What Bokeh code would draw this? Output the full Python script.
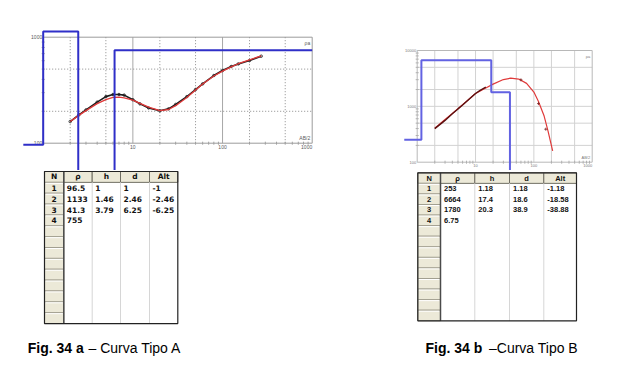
import numpy as np
from bokeh.plotting import figure
from bokeh.models import Range1d
from bokeh.layouts import row, column
from bokeh.embed import file_html
from bokeh.resources import INLINE
from bokeh.core.properties import value

# ---------------- data ----------------
# Fig. 34 a  (Curva Tipo A)
ab_a = [2, 2.5, 3, 4, 5, 6, 7, 8, 10, 12, 15, 20, 25, 30, 40, 50, 60, 80, 100, 125, 150, 200, 270]
rho_obs_a = [160, 185, 206, 244, 275, 288, 288, 284, 257, 235, 215, 202, 211, 232, 275, 321, 363, 435, 485, 529, 560, 602, 662]
rho_fit_a = [160, 183, 203, 236, 258, 270, 272, 268, 255, 238, 219, 203, 208, 226, 270, 318, 362, 430, 478, 525, 562, 612, 668]
rho_layers_a = [96.5, 1133, 41.3, 755]
h_layers_a = [1, 1.46, 3.79]
d_layers_a = [1, 2.46, 6.25]
alt_layers_a = [-1, -2.46, -6.25]

# Fig. 34 b  (Curva Tipo B)
ab_fit_b = [2, 3, 4, 6, 10, 15, 20, 30, 40, 55, 75, 100, 120, 150, 175, 210]
rho_fit_b = [406, 580, 745, 1070, 1700, 2130, 2500, 3020, 3190, 3080, 2580, 1800, 1220, 670, 360, 160]
ab_obs_b = [2, 2.5, 3, 4, 5, 6, 8, 10, 12, 15]
rho_obs_b = [400, 480, 560, 735, 900, 1060, 1380, 1700, 1930, 2200]
ab_pts_b = [60, 120, 160]
rho_pts_b = [2980, 1120, 390]
rho_layers_b = [253, 6664, 1780, 6.75]
h_layers_b = [1.18, 17.4, 20.3]
d_layers_b = [1.18, 18.6, 38.9]
alt_layers_b = [-1.18, -18.58, -38.88]

x_tick_labels = ["10", "100", "1000"]
y_tick_labels_a = ["100", "1000"]
y_tick_labels_b = ["100", "1000", "10000"]
table_headers = ["N", "ρ", "h", "d", "Alt"]
caption_bold = ["Fig. 34 a", "Fig. 34 b"]
caption_rest = ["– Curva Tipo A", "–Curva Tipo B"]

BLUE_A = "#2f2fc8"
BLUE_B = "#6262e2"
RED = "#e03a3a"
DARK = "#1c1c1c"
TXT = "#5a5a5a"


def make_chart(width, height, box, xlim, ylim):
    L, R, T, B = box
    lx0, lx1 = np.log10(xlim)
    ly0, ly1 = np.log10(ylim)
    sx = (lx1 - lx0) / (R - L)
    sy = (ly1 - ly0) / (B - T)
    xr = Range1d(10 ** (lx0 - L * sx), 10 ** (lx1 + (width - R) * sx))
    yr = Range1d(10 ** (ly0 - (height - B) * sy), 10 ** (ly1 + T * sy))
    p = figure(width=width, height=height, x_axis_type="log", y_axis_type="log",
               x_range=xr, y_range=yr, x_axis_location=None, y_axis_location=None,
               output_backend="svg", toolbar_location=None, min_border=0,
               outline_line_color=None, background_fill_color="white",
               border_fill_color="white")
    p.grid.visible = False
    return p


def model_steps(rho, d, x_start, x_end):
    xs = [x_start]
    ys = [rho[0]]
    for i, di in enumerate(d):
        xs += [di, di]
        ys += [rho[i], rho[i + 1]]
    xs.append(x_end)
    ys.append(rho[-1])
    return xs, ys


def axis_texts(p, xlim, ylim, ylabels, size, color):
    font = value("Liberation Sans")
    yv = [float(s) for s in ylabels]
    p.text(x=xlim[0], y=yv, text=ylabels, text_align="right", text_baseline="middle",
           x_offset=-1, text_font_size=size, text_color=color, text_font=font)
    xv = [float(s) for s in x_tick_labels]
    p.text(x=xv[:-1], y=ylim[0], text=x_tick_labels[:-1], text_align="center",
           text_baseline="top", y_offset=2, text_font_size=size, text_color=color, text_font=font)
    p.text(x=[xv[-1]], y=ylim[0], text=x_tick_labels[-1:], text_align="right",
           text_baseline="top", y_offset=2, text_font_size=size, text_color=color, text_font=font)
    p.text(x=[xlim[1]], y=[ylim[0]], text=["AB/2"], text_align="right", text_baseline="bottom",
           x_offset=-2, y_offset=-2, text_font_size=size, text_color=color, text_font=font)
    p.text(x=[xlim[1]], y=[ylim[1]], text=["ρa"], text_align="right", text_baseline="top",
           x_offset=-2, y_offset=3, text_font_size=size, text_color=color, text_font=font)


def minor_ticks(p, xlim, ylim, color):
    xt = [m * 10 ** k for k in range(int(np.log10(xlim[0])), int(np.log10(xlim[1])))
          for m in range(2, 10)]
    yt = [m * 10 ** k for k in range(int(np.log10(ylim[0])), int(np.log10(ylim[1])))
          for m in range(2, 10)]
    p.scatter(x=xt, y=ylim[0], marker="dash", angle=np.pi / 2, size=3, line_color=color)
    p.scatter(x=xlim[0], y=yt, marker="dash", size=3, line_color=color)


# ---------------- chart A ----------------
xlim_a, ylim_a = (1, 1000), (100, 1000)
pa = make_chart(320, 170, (42.7, 311.7, 36.7, 142.7), xlim_a, ylim_a)
pa.segment(x0=[2, 5, 20, 50, 200, 500], y0=ylim_a[0], x1=[2, 5, 20, 50, 200, 500], y1=ylim_a[1],
           line_color="#8a8a8a", line_dash="1 2", line_width=1)
pa.segment(x0=[10, 100], y0=ylim_a[0], x1=[10, 100], y1=ylim_a[1], line_color="#a8a8a8", line_width=1)
pa.segment(x0=xlim_a[0], y0=[200, 500], x1=xlim_a[1], y1=[200, 500],
           line_color="#8a8a8a", line_dash="1 2", line_width=1)
pa.quad(left=[xlim_a[0]], right=[xlim_a[1]], bottom=[ylim_a[0]], top=[ylim_a[1]],
        fill_color=None, line_color="#9c9c9c", line_width=1)
minor_ticks(pa, xlim_a, ylim_a, "#a0a0a0")
axis_texts(pa, xlim_a, ylim_a, y_tick_labels_a, "5px", TXT)
pa.line(ab_a, rho_obs_a, line_color=DARK, line_width=1.6)
pa.scatter(ab_a, rho_obs_a, marker="circle", size=2.5, fill_color=None, line_color=DARK, line_width=0.8)
pa.line(ab_a, rho_fit_a, line_color=RED, line_width=1.3)
mx, my = model_steps(rho_layers_a, d_layers_a, 0.6, xlim_a[1])
pa.line(mx, my, line_color=BLUE_A, line_width=2)

# ---------------- chart B ----------------
xlim_b, ylim_b = (1, 1000), (100, 10000)
pbc = make_chart(294, 170, (96.7, 271.7, 50, 161.7), xlim_b, ylim_b)
gx_b = [2, 5, 10, 20, 50, 100, 200, 500]
gy_b = [200, 500, 1000, 2000, 5000]
pbc.segment(x0=gx_b, y0=ylim_b[0], x1=gx_b, y1=ylim_b[1], line_color="#d2d2d2", line_width=1)
pbc.segment(x0=xlim_b[0], y0=gy_b, x1=xlim_b[1], y1=gy_b, line_color="#d2d2d2", line_width=1)
pbc.quad(left=[xlim_b[0]], right=[xlim_b[1]], bottom=[ylim_b[0]], top=[ylim_b[1]],
         fill_color=None, line_color="#b8b8b8", line_width=1)
minor_ticks(pbc, xlim_b, ylim_b, "#b0b0b0")
axis_texts(pbc, xlim_b, ylim_b, y_tick_labels_b, "4px", "#7a7a7a")
pbc.line(ab_fit_b, rho_fit_b, line_color=RED, line_width=1.2)
pbc.line(ab_obs_b, rho_obs_b, line_color="#5a1010", line_width=1.4)
pbc.scatter(ab_pts_b, rho_pts_b, marker="cross", size=3, line_color="#7a2020", line_width=0.8)
mxb, myb = model_steps(rho_layers_b, d_layers_b, 0.6, xlim_b[1])
pbc.line(mxb, myb, line_color=BLUE_B, line_width=2)

# ---------------- tables + captions ----------------
pt = figure(width=614, height=204, x_range=Range1d(0, 614), y_range=Range1d(374, 170),
            x_axis_location=None, y_axis_location=None, output_backend="svg",
            toolbar_location=None, min_border=0, outline_line_color=None,
            background_fill_color="white", border_fill_color="white")
pt.grid.visible = False


def draw_table(p, left, top, col_w, row_h, n_rows, cols, font, fsize, pad):
    edges = left + np.concatenate([[0], np.cumsum(col_w)])
    right = edges[-1]
    bottom = top + row_h * n_rows
    p.quad(left=[left], right=[right], top=[top], bottom=[bottom], fill_color="white", line_color=None)
    # header
    p.quad(left=edges[:-1], right=edges[1:], top=top, bottom=top + row_h,
           fill_color="#ece9d8", line_color="#6f6d62", line_width=1)
    # N column
    ys = top + row_h * np.arange(1, n_rows)
    p.quad(left=edges[0], right=edges[1], top=ys, bottom=ys + row_h,
           fill_color="#ece9d8", line_color="#a29f90", line_width=1)
    p.segment(x0=edges[0] + 1, y0=ys + 1, x1=edges[1] - 1, y1=ys + 1, line_color="white", line_width=1)
    # data column separators
    p.segment(x0=edges[2:-1], y0=top + row_h, x1=edges[2:-1], y1=bottom, line_color="#d6d6d6", line_width=1)
    p.segment(x0=[edges[1]], y0=[top], x1=[edges[1]], y1=[bottom], line_color="#4a4a4a", line_width=1.5)
    # outer border
    p.quad(left=[left], right=[right], top=[top], bottom=[bottom], fill_color=None,
           line_color="#222222", line_width=1.2)
    cx = (edges[:-1] + edges[1:]) / 2
    f = value(font)
    p.text(x=cx, y=top + row_h / 2, text=table_headers, text_align="center", text_baseline="middle",
           text_font=f, text_font_style="bold", text_font_size=fsize, text_color="#111111")
    nl = len(cols[0])
    p.text(x=cx[0], y=top + row_h * (np.arange(1, nl + 1) + 0.5), text=[str(i) for i in range(1, nl + 1)],
           text_align="center", text_baseline="middle", text_font=f, text_font_style="bold",
           text_font_size=fsize, text_color="#111111")
    for j, vals in enumerate(cols):
        p.text(x=edges[j + 1] + pad, y=top + row_h * (np.arange(1, len(vals) + 1) + 0.5),
               text=[f"{v:g}" for v in vals], text_align="left", text_baseline="middle",
               text_font=f, text_font_style="bold", text_font_size=fsize, text_color="#111111")


draw_table(pt, 44, 171, [19.3, 28.4, 28.3, 29, 28.3], 10.86, 14,
           [rho_layers_a, h_layers_a, d_layers_a, alt_layers_a], "DejaVu Sans", "7.5px", 3)
draw_table(pt, 417.3, 172.3, [22.7, 34.3, 34.7, 34.3, 32.7], 10.57, 14,
           [rho_layers_b, h_layers_b, d_layers_b, alt_layers_b], "Liberation Sans", "7.5px", 3.5)

cap_font = value("Liberation Sans")
pt.text(x=[27.3, 425], y=347, text=caption_bold, text_align="left", text_baseline="middle",
        text_font=cap_font, text_font_style="bold", text_font_size="14px", text_color="black")
pt.text(x=[88, 488.5], y=347, text=caption_rest, text_align="left", text_baseline="middle",
        text_font=cap_font, text_font_size="14px", text_color="black")

layout = column(row(pa, pbc), pt)
open("out.html", "w").write(file_html(layout, INLINE))
